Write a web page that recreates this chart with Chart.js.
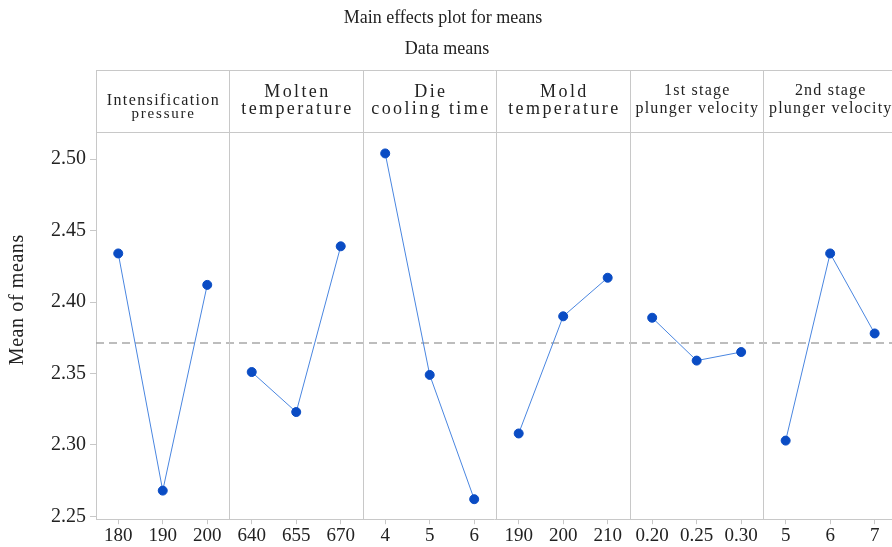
<!DOCTYPE html>
<html>
<head>
<meta charset="utf-8">
<script src="https://cdn.jsdelivr.net/npm/chart.js@4"></script>
<style>
  html, body { margin: 0; padding: 0; background: #fff; }
  #wrap { width: 892px; height: 547px; position: relative; }
</style>
</head>
<body>
<div id="wrap"><canvas id="chart" width="892" height="547"></canvas></div>
<script>
// factor names (two header lines each) and their levels
const factors = [
  ['Intensification', 'pressure'],
  ['Molten', 'temperature'],
  ['Die', 'cooling time'],
  ['Mold', 'temperature'],
  ['1st stage', 'plunger velocity'],
  ['2nd stage', 'plunger velocity'],
];
const levelLabels = [
  ['180', '190', '200'],
  ['640', '655', '670'],
  ['4', '5', '6'],
  ['190', '200', '210'],
  ['0.20', '0.25', '0.30'],
  ['5', '6', '7'],
];
const meanValues = [
  [2.434, 2.268, 2.412],
  [2.351, 2.323, 2.439],
  [2.504, 2.349, 2.262],
  [2.308, 2.390, 2.417],
  [2.389, 2.359, 2.365],
  [2.303, 2.434, 2.378],
];
const grandMean = 2.3713;
const yTicks = [2.25, 2.30, 2.35, 2.40, 2.45, 2.50];

const FONT = '"Liberation Serif", "DejaVu Serif", serif';
const GRID = '#c8c8c8';
const TEXT = '#222';
const HEADER_TOP = 70;

// each panel takes 3 units on a shared linear x axis
const tickPositions = [];
const tickText = {};
levelLabels.forEach((levels, p) => {
  levels.forEach((lab, j) => {
    const v = p * 3 + j + 0.5;
    tickPositions.push(v);
    tickText[v] = lab;
  });
});

const datasets = meanValues.map((vals, p) => ({
  data: vals.map((y, j) => ({ x: p * 3 + j + 0.5, y })),
  borderColor: '#4a86e0',
  borderWidth: 1,
  pointBackgroundColor: '#0a4cc4',
  pointBorderColor: '#0a4cc4',
  pointRadius: 4.5,
  pointHoverRadius: 4.5,
  tension: 0,
}));

// [text, font size, letter spacing, y]
function headerLines(p) {
  const [a, b] = factors[p];
  if (p === 0) return [[a, 16, 1.4, 101], [b, 15, 1.8, 114]];
  if (p >= 4) return [[a, 16, 1.2, 91], [b, 16, 1.2, 109]];
  return [[a, 18, 2.4, 92], [b, 18, 2.4, 109]];
}

function spacedText(ctx, text, x, y, size, spacing) {
  ctx.font = size + 'px ' + FONT;
  ctx.letterSpacing = spacing + 'px';
  ctx.fillText(text, x + spacing / 2, y);
  ctx.letterSpacing = '0px';
}

const panelsPlugin = {
  id: 'panels',
  beforeDatasetsDraw(chart) {
    const { ctx, chartArea } = chart;
    const y = chart.scales.y.getPixelForValue(grandMean);
    ctx.save();
    ctx.strokeStyle = '#a8a8a8';
    ctx.lineWidth = 1.5;
    ctx.setLineDash([8, 5]);
    ctx.beginPath();
    ctx.moveTo(chartArea.left, y);
    ctx.lineTo(chartArea.right, y);
    ctx.stroke();
    ctx.restore();
  },
  afterDraw(chart) {
    const { ctx, chartArea } = chart;
    const xs = chart.scales.x;
    ctx.save();
    ctx.strokeStyle = GRID;
    ctx.lineWidth = 1;
    // header box
    ctx.beginPath();
    ctx.moveTo(chartArea.left + 0.5, HEADER_TOP + 0.5);
    ctx.lineTo(chartArea.right, HEADER_TOP + 0.5);
    ctx.moveTo(chartArea.left + 0.5, HEADER_TOP);
    ctx.lineTo(chartArea.left + 0.5, chartArea.top);
    ctx.moveTo(chartArea.left, Math.round(chartArea.top) + 0.5);
    ctx.lineTo(chartArea.right, Math.round(chartArea.top) + 0.5);
    // panel dividers
    for (let p = 1; p < factors.length; p++) {
      const x = Math.round(xs.getPixelForValue(p * 3)) + 0.5;
      ctx.moveTo(x, HEADER_TOP);
      ctx.lineTo(x, chartArea.bottom);
    }
    ctx.stroke();

    ctx.fillStyle = TEXT;
    ctx.textAlign = 'center';
    ctx.textBaseline = 'middle';
    factors.forEach((_, p) => {
      const cx = xs.getPixelForValue(p * 3 + 1.5);
      headerLines(p).forEach(([text, size, spacing, y]) => spacedText(ctx, text, cx, y, size, spacing));
    });

    // titles
    spacedText(ctx, 'Main effects plot for means', 443, 18, 18, 0);
    spacedText(ctx, 'Data means', 447, 49, 18, 0);

    // y axis title
    ctx.translate(18, 300);
    ctx.rotate(-Math.PI / 2);
    spacedText(ctx, 'Mean of means', 0, 0, 20, 0.6);
    ctx.restore();
  },
};

new Chart(document.getElementById('chart'), {
  type: 'line',
  data: { datasets },
  options: {
    responsive: false,
    animation: false,
    layout: { autoPadding: false, padding: { top: 132, left: 47, right: 0, bottom: 0 } },
    plugins: {
      legend: { display: false },
      tooltip: { enabled: false },
    },
    scales: {
      x: {
        type: 'linear',
        min: 0,
        max: 17.89, // last panel runs past the right edge
        afterBuildTicks: (scale) => { scale.ticks = tickPositions.map((v) => ({ value: v })); },
        ticks: {
          autoSkip: false,
          maxRotation: 0,
          color: TEXT,
          padding: 0,
          font: { family: FONT, size: 19 },
          callback: (v) => tickText[v],
        },
        grid: { drawOnChartArea: false, color: GRID, tickLength: 5 },
        border: { color: GRID },
      },
      y: {
        min: 2.248,
        max: 2.519,
        afterBuildTicks: (scale) => { scale.ticks = yTicks.map((v) => ({ value: v })); },
        ticks: {
          color: TEXT,
          padding: 4,
          font: { family: FONT, size: 20 },
          callback: (v) => v.toFixed(2),
        },
        grid: { drawOnChartArea: false, color: GRID, tickLength: 6 },
        border: { color: GRID },
      },
    },
  },
  plugins: [panelsPlugin],
});
</script>
</body>
</html>
